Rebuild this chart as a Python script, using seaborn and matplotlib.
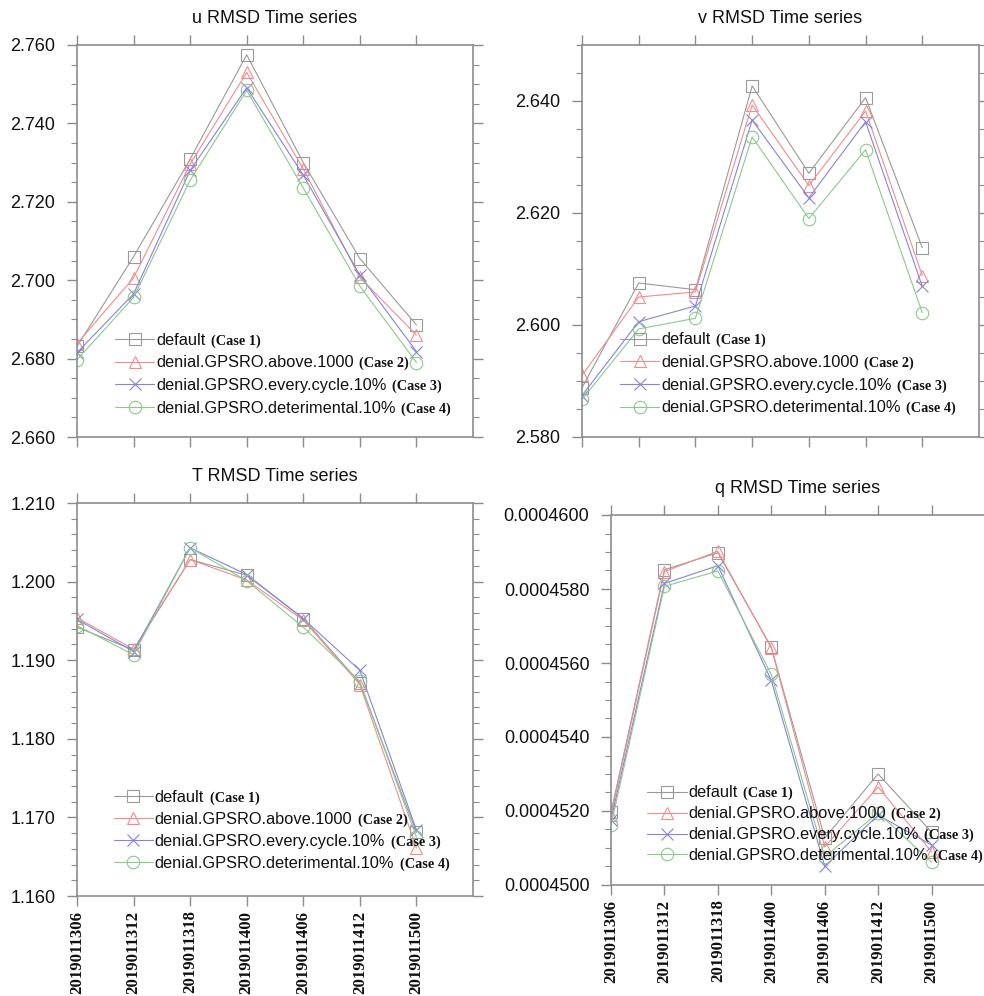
import numpy as np
import pandas as pd
import matplotlib
matplotlib.use("Agg")
import matplotlib.pyplot as plt
import seaborn as sns
from matplotlib.ticker import MultipleLocator, FormatStrFormatter
from matplotlib.font_manager import FontProperties

times = ["2019011306", "2019011312", "2019011318", "2019011400",
         "2019011406", "2019011412", "2019011500"]
cases = ["default", "denial.GPSRO.above.1000",
         "denial.GPSRO.every.cycle.10%", "denial.GPSRO.deterimental.10%"]
case_tags = ["(Case 1)", "(Case 2)", "(Case 3)", "(Case 4)"]

u_default = [2.6831, 2.7060, 2.7309, 2.7575, 2.7300, 2.7055, 2.6886]
u_above   = [2.6838, 2.7006, 2.7296, 2.7530, 2.7284, 2.7007, 2.6860]
u_every   = [2.6815, 2.6965, 2.7280, 2.7491, 2.7268, 2.7013, 2.6818]
u_deter   = [2.6797, 2.6956, 2.7255, 2.7484, 2.7235, 2.6985, 2.6790]

v_default = [2.5888, 2.6075, 2.6063, 2.6427, 2.6271, 2.6406, 2.6138]
v_above   = [2.5910, 2.6050, 2.6059, 2.6393, 2.6249, 2.6382, 2.6088]
v_every   = [2.5874, 2.6006, 2.6034, 2.6366, 2.6227, 2.6363, 2.6069]
v_deter   = [2.5867, 2.5993, 2.6012, 2.6336, 2.6190, 2.6313, 2.6022]

T_default = [1.1942, 1.1913, 1.2028, 1.2008, 1.1953, 1.1871, 1.1681]
T_above   = [1.1954, 1.1914, 1.2028, 1.2002, 1.1951, 1.1869, 1.1661]
T_every   = [1.1952, 1.1911, 1.2043, 1.2009, 1.1953, 1.1887, 1.1684]
T_deter   = [1.1944, 1.1907, 1.2043, 1.2001, 1.1942, 1.1873, 1.1675]

q_default = [4.5197e-4, 4.5852e-4, 4.5898e-4, 4.5643e-4, 4.5127e-4, 4.5300e-4, 4.5143e-4]
q_above   = [4.5189e-4, 4.5847e-4, 4.5902e-4, 4.5641e-4, 4.5103e-4, 4.5265e-4, 4.5090e-4]
q_every   = [4.5176e-4, 4.5815e-4, 4.5863e-4, 4.5553e-4, 4.5051e-4, 4.5189e-4, 4.5108e-4]
q_deter   = [4.5162e-4, 4.5807e-4, 4.5849e-4, 4.5569e-4, 4.5076e-4, 4.5195e-4, 4.5062e-4]

titles = ["u RMSD Time series", "v RMSD Time series",
          "T RMSD Time series", "q RMSD Time series"]

colors = ["#9a9a9a", "#f28c8c", "#8585dc", "#8cc88c"]
markers = ["s", "^", "x", "o"]
FRAME = "#8c8c8c"

sns.set_theme(style="white")
plt.rcParams["font.family"] = ["Liberation Sans", "DejaVu Sans"]

W, H = 984, 996
fig = plt.figure(figsize=(W / 100, H / 100), dpi=100)


def ax_at(l, t, r, b):
    return fig.add_axes([l / W, 1 - b / H, (r - l) / W, (b - t) / H])


panels = [
    dict(series=[u_default, u_above, u_every, u_deter], box=(77, 45, 473, 437),
         ylim=(2.66, 2.76), major=0.02, minor=0.005, fmt="%.3f", xlabels=False,
         leg=(0.096, 0.054), ls=0.47),
    dict(series=[v_default, v_above, v_every, v_deter], box=(582, 45, 979, 437),
         ylim=(2.58, 2.65), major=0.02, minor=0.005, fmt="%.3f", xlabels=False,
         leg=(0.096, 0.055), ls=0.47),
    dict(series=[T_default, T_above, T_every, T_deter], box=(77, 503, 473, 896),
         ylim=(1.16, 1.21), major=0.01, minor=0.002, fmt="%.3f", xlabels=True,
         leg=(0.093, 0.064), ls=0.42),
    dict(series=[q_default, q_above, q_every, q_deter], box=(611, 515, 985, 885),
         ylim=(4.5e-4, 4.6e-4), major=2e-6, minor=5e-7, fmt="%.7f", xlabels=True,
         leg=(0.097, 0.059), ls=0.36),
]

for p, title in zip(panels, titles):
    ax = ax_at(*p["box"])
    df = pd.DataFrame({
        "time": np.tile(times, len(cases)),
        "case": np.repeat(cases, len(times)),
        "value": np.concatenate([np.asarray(s, dtype=float) for s in p["series"]]),
    })
    sns.lineplot(data=df, x="time", y="value", hue="case",
                 hue_order=cases, palette=colors, sort=False, legend=False,
                 linewidth=0.8, ax=ax)
    for line, c, m in zip(ax.lines, colors, markers):
        line.set_marker(m)
        line.set_markersize(9)
        line.set_markeredgecolor(c)
        line.set_markerfacecolor("none")
        line.set_markeredgewidth(0.8)

    ax.set_xlim(0, len(times))
    ax.set_ylim(*p["ylim"])
    ax.set_xlabel("")
    ax.set_ylabel("")
    ax.yaxis.set_major_locator(MultipleLocator(p["major"]))
    ax.yaxis.set_minor_locator(MultipleLocator(p["minor"]))
    ax.yaxis.set_major_formatter(FormatStrFormatter(p["fmt"]))
    ax.set_xticks(range(len(times)))
    if p["xlabels"]:
        ax.set_xticklabels(times, rotation=90, fontweight="bold",
                           family="Liberation Serif", fontsize=12.1, color="#111111")
    else:
        ax.set_xticklabels([])
    ax.tick_params(axis="x", which="major", direction="out", length=7, width=1.0,
                   color=FRAME, top=True, bottom=True, pad=3.5)
    ax.tick_params(axis="y", which="major", direction="out", length=7, width=1.0,
                   color=FRAME, left=True, right=True, labelsize=13, pad=8.5,
                   labelcolor="#111111")
    ax.tick_params(axis="y", which="minor", direction="out", length=4, width=0.8,
                   color=FRAME, left=True, right=True)
    for sp in ax.spines.values():
        sp.set_color(FRAME)
        sp.set_linewidth(1.2)
    ax.set_title(title, fontsize=13, pad=16, color="#111111")

    leg = ax.legend(ax.lines[:4], cases, loc="lower left",
                    bbox_to_anchor=p["leg"], frameon=False, borderpad=0,
                    borderaxespad=0, handlelength=2.4, handletextpad=0.1,
                    labelspacing=p["ls"],
                    prop=FontProperties(family="Liberation Sans", size=11.8))
    for t, tag in zip(leg.get_texts(), case_tags):
        t.set_color("#111111")
        ax.annotate(tag, xy=(1, 0), xycoords=t, xytext=(4, 0),
                    textcoords="offset points", va="bottom", ha="left",
                    family="Liberation Serif", fontweight="bold", fontsize=10.3,
                    color="#111111", zorder=10)

fig.savefig("out.png", dpi=100)
